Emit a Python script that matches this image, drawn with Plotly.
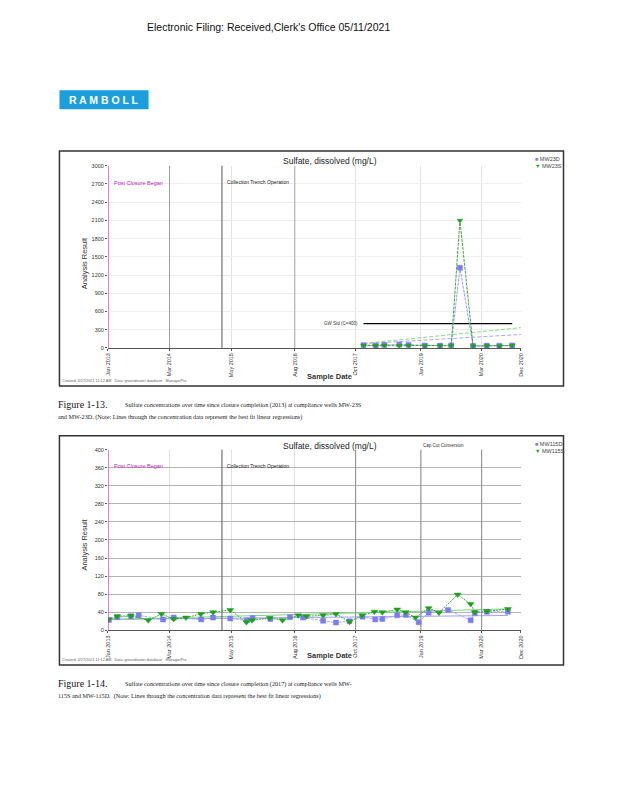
import numpy as np
import pandas as pd
import plotly.graph_objects as go

# ---------------- data ----------------
tick_dates = ["2013-01-01", "2014-03-08", "2015-05-15", "2016-08-01",
              "2017-10-01", "2019-01-01", "2020-03-01", "2020-12-01"]
tick_labels = ["Jan 2013", "Mar 2014", "May 2015", "Aug 2016",
               "Oct 2017", "Jan 2019", "Mar 2020", "Dec 2020"]
x_range = ["2013-01-01", "2020-12-01"]

# Figure 1-13 : MW-23D / MW-23S
dates_23 = ["2017-11-25", "2018-02-18", "2018-04-20", "2018-08-03", "2018-10-06",
            "2019-01-28", "2019-05-15", "2019-08-01", "2019-10-01", "2020-01-01",
            "2020-04-06", "2020-07-03", "2020-10-01"]
mw23d = [45, 40, 48, 55, 50, 40, 38, 42, 1320, 35, 38, 36, 40]
mw23s = [38, 35, 42, 36, 40, 33, 37, 35, 2100, 30, 36, 32, 38]
background_23 = 400

# Figure 1-14 : MW-115D / MW-115S
dates_115s = ["2013-01-05", "2013-03-07", "2013-06-10", "2013-10-10", "2014-01-10",
              "2014-04-06", "2014-07-01", "2014-10-13", "2015-01-07", "2015-05-07",
              "2015-08-28", "2015-10-07", "2016-02-07", "2016-05-07", "2016-08-25",
              "2016-10-22", "2017-02-15", "2017-05-16", "2017-08-19", "2017-11-15",
              "2018-02-09", "2018-04-06", "2018-07-19", "2018-09-15", "2018-11-24",
              "2019-02-24", "2019-05-07", "2019-09-15", "2019-12-15", "2020-01-13",
              "2020-04-07", "2020-09-01"]
mw115s = [24, 31, 32, 22, 36, 25, 28, 36, 40, 45, 18, 22, 27, 22, 33, 31, 33, 36,
          19, 33, 41, 40, 46, 40, 28, 49, 39, 79, 58, 40, 42, 47]
dates_115d = ["2013-01-08", "2013-03-07", "2013-06-10", "2013-08-04", "2014-01-21",
              "2014-04-06", "2014-10-16", "2015-01-07", "2015-05-07", "2015-09-01",
              "2015-10-10", "2016-02-12", "2016-06-28", "2016-09-28", "2017-02-15",
              "2017-05-16", "2017-08-19", "2017-11-18", "2018-02-15", "2018-04-06",
              "2018-07-19", "2018-09-18", "2018-12-16", "2019-02-24", "2019-07-10",
              "2019-12-15", "2020-01-13", "2020-04-07", "2020-09-01"]
mw115d = [23, 29, 31, 33, 24, 28, 24, 28, 26, 22, 27, 25, 29, 28, 21, 17, 20, 30,
          24, 25, 33, 34, 18, 39, 45, 22, 38, 41, 41]

post_closure_date = "2013-01-01"
trench_date = "2015-03-10"
cut_date = "2019-01-01"

# ---------------- helpers ----------------
W, H = 618, 800
def px(x): return x / W
def py(y): return 1 - y / H

BLUE = "#7c7cf0"
GREEN = "#1f9e1f"
SANS = "Liberation Sans, Arial, sans-serif"
SERIF = "Liberation Serif, Times New Roman, serif"

def trend(dates, vals, end):
    d = pd.to_datetime(dates)
    t = (d - pd.Timestamp("2013-01-01")).days.values.astype(float)
    k, b = np.polyfit(t, np.array(vals, float), 1)
    xe = [d.min(), pd.Timestamp(end)]
    te = [(x - pd.Timestamp("2013-01-01")).days for x in xe]
    return xe, [k * v + b for v in te]

fig = go.Figure()

def add_series(dates, vals, name, color, symbol, xa, ya, dash, lcolor, size):
    fig.add_trace(go.Scatter(x=pd.to_datetime(dates), y=vals, name=name, mode="lines+markers",
                             line=dict(color=lcolor, width=0.9, dash=dash),
                             marker=dict(symbol=symbol, size=size, color=color,
                                         line=dict(width=0.5, color=color)),
                             xaxis=xa, yaxis=ya, showlegend=False))

def add_trend(dates, vals, color, xa, ya, end, dash):
    xe, ye = trend(dates, vals, end)
    fig.add_trace(go.Scatter(x=xe, y=ye, mode="lines", line=dict(color=color, width=1, dash=dash),
                             xaxis=xa, yaxis=ya, showlegend=False, hoverinfo="skip"))

# chart 1 traces
add_trend(dates_23, mw23d, "#a7a7f0", "x", "y", x_range[1], "4px,2px")
add_trend(dates_23, mw23s, "#8ad88a", "x", "y", x_range[1], "4px,2px")
fig.add_trace(go.Scatter(x=[pd.Timestamp(dates_23[0]), pd.Timestamp(dates_23[-1])],
                         y=[background_23, background_23], mode="lines",
                         line=dict(color="black", width=1.2), xaxis="x", yaxis="y",
                         showlegend=False))
add_series(dates_23, mw23d, "MW23D", BLUE, "square", "x", "y", "3px,1px", "#8e8ef0", 5)
add_series(dates_23, mw23s, "MW23S", GREEN, "triangle-down", "x", "y", "3px,1px", "#2a9a2a", 5)

# chart 2 traces
add_trend(dates_115d, mw115d, "#a0a0f0", "x2", "y2", dates_115d[-1], "solid")
add_trend(dates_115s, mw115s, "#7bd67b", "x2", "y2", dates_115s[-1], "solid")
add_series(dates_115d, mw115d, "MW115D", BLUE, "square", "x2", "y2", "3px,1px", "#a0a0f2", 5)
add_series(dates_115s, mw115s, "MW115S", GREEN, "triangle-down", "x2", "y2", "2px,1px", "#2aa82a", 6)

axis_x = dict(type="date", range=x_range, tickvals=tick_dates, ticktext=tick_labels,
              tickangle=-90, tickfont=dict(size=5.5, family=SANS, color="#333"),
              showline=True, linecolor="#555", linewidth=1, ticks="outside", ticklen=2,
              tickcolor="#555", zeroline=False)
fig.update_layout(
    width=W, height=H, margin=dict(l=0, r=0, t=0, b=0),
    paper_bgcolor="white", plot_bgcolor="white", showlegend=False,
    xaxis=dict(axis_x, domain=[px(106), px(523)], anchor="y", showgrid=True, gridcolor="#e4e4e4"),
    yaxis=dict(domain=[py(347.5), py(164)], range=[0, 3000], dtick=300, anchor="x",
               tickfont=dict(size=5.5, family=SANS, color="#333"), showgrid=True,
               gridcolor="#eeeeee", zeroline=False, ticks="outside", ticklen=2, tickcolor="#555"),
    xaxis2=dict(axis_x, domain=[px(106), px(523)], anchor="y2", showgrid=True, gridcolor="#e0e0e0"),
    yaxis2=dict(domain=[py(632), py(450)], range=[0, 400], dtick=40, anchor="x2",
                tickfont=dict(size=5.5, family=SANS, color="#333"), showgrid=True,
                gridcolor="#b4b4b4", zeroline=False, ticks="outside", ticklen=2, tickcolor="#555"),
)

shapes = []
# page header logo
shapes.append(dict(type="rect", xref="paper", yref="paper", x0=px(57), x1=px(147),
                   y0=py(107), y1=py(88), fillcolor="#1a9fdc", line=dict(width=0), layer="below"))
# chart frames
for top, bot in [(149, 386), (436, 667)]:
    shapes.append(dict(type="rect", xref="paper", yref="paper", x0=px(57), x1=px(566),
                       y0=py(bot), y1=py(top), line=dict(color="#333", width=1.5)))
# darker vertical grid / event lines
for xa, ya, lines in [
    ("x", "y", [(tick_dates[1], "#9a9a9a"), (tick_dates[3], "#a8a8a8"), (trench_date, "#555555"),
                (post_closure_date, "#cc33cc")]),
    ("x2", "y2", [(tick_dates[4], "#8a8a8a"), (cut_date, "#8a8a8a"), (tick_dates[6], "#8a8a8a"),
                  (trench_date, "#555555"), (post_closure_date, "#cc33cc")]),
]:
    for d, c in lines:
        shapes.append(dict(type="line", xref=xa, yref=ya + " domain", x0=d, x1=d, y0=0, y1=1,
                           line=dict(color=c, width=1.3 if c == "#cc33cc" else 1)))
fig.update_layout(shapes=shapes)

ann = []
def text(x, y, s, size, color="#222", anchor="left", family=SANS, angle=0, yanchor="middle"):
    ann.append(dict(xref="paper", yref="paper", x=px(x), y=py(y), text=s, showarrow=False,
                    xanchor=anchor, yanchor=yanchor, textangle=angle,
                    font=dict(size=size, color=color, family=family)))

text(143, 24, "Electronic Filing: Received,Clerk's Office 05/11/2021", 10.5, "#111")
text(102, 98, "<b>R A M B O L L</b>", 10.5, "white", anchor="center")

for top, bot, cap1, cap2, num, legs, plot_top in [
    (149, 386, "Sulfate concentrations over time since closure completion (2013) at compliance wells MW-23S",
     "and MW-23D. (Note: Lines through the concentration data represent the best fit linear regressions)",
     "Figure 1-13.", ["MW23D", "MW23S"], 164),
    (436, 667, "Sulfate concentrations over time since closure completion (2017) at compliance wells MW-",
     "115S and MW-115D.  (Note: Lines through the concentration data represent the best fit linear regressions)",
     "Figure 1-14.", ["MW115D", "MW115S"], 450),
]:
    text(330, top + 10, "Sulfate, dissolved (mg/L)", 8.5, "#222", anchor="center")
    text(535, top + 8, f'<span style="color:{BLUE}">■</span> {legs[0]}', 5.5, "#444")
    text(535, top + 15, f'<span style="color:{GREEN}">▼</span> {legs[1]}', 5.5, "#444")
    text(110, plot_top + 17, "Post Closure Began", 5.5, "#bb22bb")
    text(224, plot_top + 16, "Collection Trench Operation", 5, "#222")
    text(330, bot - 10, "<b>Sample Date</b>", 7.5, "#333", anchor="center")
    text(82, (plot_top + bot - 38) / 2 + 6, "Analysis Result", 7.5, "#333", anchor="center", angle=-90)
    text(58, bot - 5, "Created: 4/27/2021 11:12 AM   Data: groundwater database   ManagerPro", 3.8, "#666")
    text(54, bot + 19, num, 10, "#111", family=SERIF)
    text(121, bot + 19, cap1, 6.2, "#222", family=SERIF)
    text(54, bot + 31, cap2, 6.2, "#222", family=SERIF)

text(361, 323, "GW Std (C=400)", 4.5, "#333", anchor="right")
text(422, 446, "Cap Cut Conversion", 4.5, "#333")
fig.update_layout(annotations=ann)

fig.write_html("out.html", config={"displayModeBar": False},
               post_script="document.body.style.margin='0';document.body.style.padding='0';")
